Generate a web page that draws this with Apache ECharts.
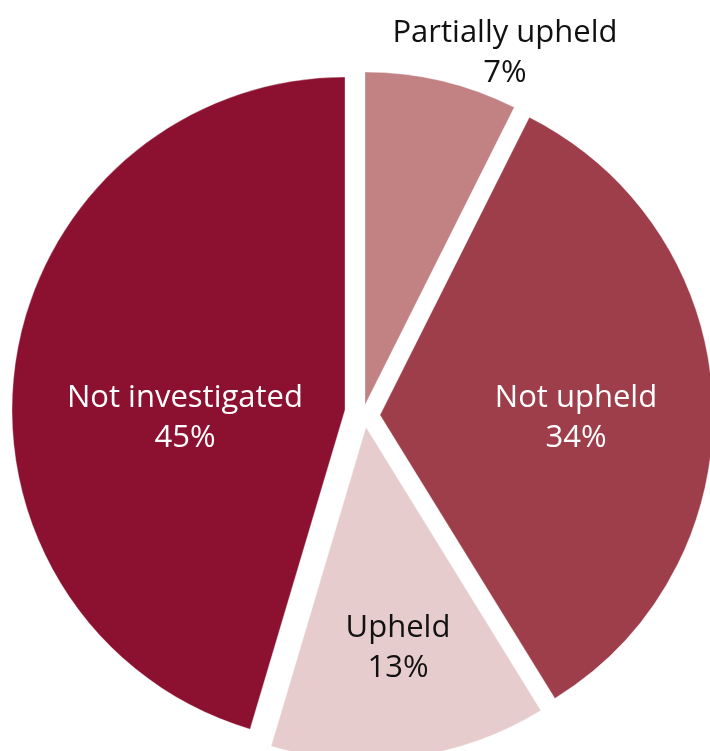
<!DOCTYPE html>
<html>
<head>
<meta charset="utf-8">
<script src="https://cdn.jsdelivr.net/npm/echarts@6/dist/echarts.min.js"></script>
<style>
html,body{margin:0;padding:0;background:#fff;}
#chart{width:710px;height:751px;}
</style>
</head>
<body>
<div id="chart"></div>
<script>
// Data (shares; labels show rounded percentages)
const categories = ['Partially upheld', 'Not upheld', 'Upheld', 'Not investigated'];
const values = [7.4, 33.8, 13.4, 45.4];

// Styling / layout (not data)
const colors = ['#C28284', '#9F3E4B', '#E7CCCD', '#8C1131'];
const labelColors = ['#111111', '#ffffff', '#111111', '#ffffff'];
const sliceCenters = [[365, 405], [380, 415], [366, 427], [345, 410]];
const labelPos = [[505, 53], [576, 418], [398, 648], [185, 418]];

const chart = echarts.init(document.getElementById('chart'), null, {renderer: 'canvas'});

const series = categories.map((cat, i) => ({
  type: 'pie',
  center: sliceCenters[i],
  radius: 333,
  startAngle: 90,
  clockwise: true,
  silent: true,
  animation: false,
  avoidLabelOverlap: false,
  labelLine: {show: false},
  label: {
    position: 'inside',
    formatter: p => p.name + '\n' + Math.round(p.value) + '%',
    fontFamily: 'Open Sans',
    fontSize: 31,
    lineHeight: 40,
    color: labelColors[i],
    align: 'center'
  },
  labelLayout: function () {
    return {x: labelPos[i][0], y: labelPos[i][1], align: 'center', verticalAlign: 'middle'};
  },
  data: categories.map((name, j) => ({
    name: name,
    value: values[j],
    itemStyle: j === i
      ? {color: colors[j], borderColor: 'rgba(255,255,255,0.35)', borderWidth: 1}
      : {color: 'rgba(0,0,0,0)', borderWidth: 0},
    label: {show: j === i}
  }))
}));

chart.setOption({
  backgroundColor: '#ffffff',
  animation: false,
  series: series
});
</script>
</body>
</html>
